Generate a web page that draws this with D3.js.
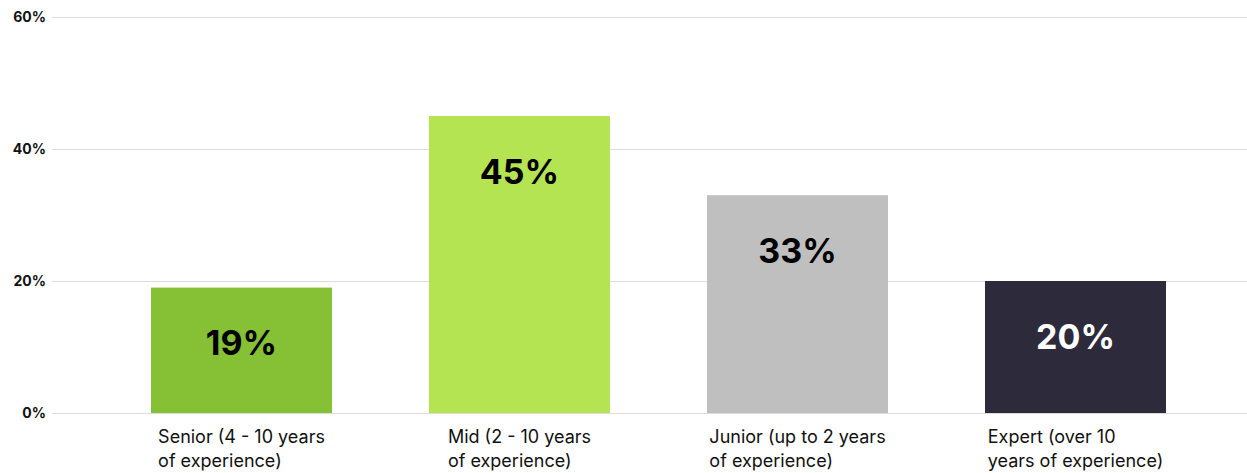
<!DOCTYPE html>
<html>
<head>
<meta charset="utf-8">
<script src="https://cdn.jsdelivr.net/npm/d3@7"></script>
<style>
  html, body { margin: 0; padding: 0; background: #fff; }
  svg { display: block; font-family: "Inter", "Noto Sans", sans-serif; }
</style>
</head>
<body>
<svg id="chart" width="1247" height="473"></svg>
<script>
// Experience levels and their share of respondents
const categories = [
  ["Senior (4 - 10 years", "of experience)"],
  ["Mid (2 - 10 years", "of experience)"],
  ["Junior (up to 2 years", "of experience)"],
  ["Expert (over 10", "years of experience)"]
];
const values = [19, 45, 33, 20];
const barColors = ["#86c034", "#b4e451", "#bfbfbf", "#2d2a3b"];
const labelColors = ["#000", "#000", "#000", "#fff"];
const yTicks = [0, 20, 40, 60];

const svg = d3.select("#chart");
const gridLeft = 52, gridRight = 1247;
const plotTop = 17, plotBottom = 413;

const x = d3.scaleBand()
  .domain(d3.range(values.length))
  .range([102.5, 1214.5])
  .paddingInner(0.349)
  .paddingOuter(0.1745);

const y = d3.scaleLinear().domain([0, 60]).range([plotBottom, plotTop]);

// Gridlines and y tick labels
const yAxis = svg.append("g")
  .attr("transform", `translate(${gridLeft},0)`)
  .call(d3.axisLeft(y).tickValues(yTicks).tickFormat(d => d + "%")
    .tickSize(-(gridRight - gridLeft)).tickPadding(6));
yAxis.select(".domain").remove();
yAxis.selectAll(".tick line").attr("stroke", "#dcdcdc").attr("stroke-width", 1);
yAxis.selectAll(".tick text")
  .attr("font-size", 14).attr("font-weight", 700).attr("fill", "#111")
  .attr("font-family", "Inter, sans-serif");

// Bars
svg.append("g").selectAll("rect")
  .data(values)
  .join("rect")
  .attr("x", (d, i) => x(i))
  .attr("y", d => y(d))
  .attr("width", x.bandwidth())
  .attr("height", d => plotBottom - y(d))
  .attr("fill", (d, i) => barColors[i]);

// Value labels inside the bars
svg.append("g").selectAll("text")
  .data(values)
  .join("text")
  .attr("x", (d, i) => x(i) + x.bandwidth() / 2)
  .attr("y", d => Math.min(y(d) + 55, (y(d) + plotBottom) / 2))
  .attr("text-anchor", "middle")
  .attr("dominant-baseline", "central")
  .attr("font-size", 34)
  .attr("font-weight", 700)
  .attr("fill", (d, i) => labelColors[i])
  .text(d => d + "%");

// Category labels: left-aligned block centred under each bar
const catG = svg.append("g");
categories.forEach((lines, i) => {
  const t = catG.append("text")
    .attr("font-size", 18)
    .attr("fill", "#111");
  lines.forEach((line, j) => {
    t.append("tspan").attr("x", 0).attr("y", 443 + j * 24).text(line);
  });
  const w = t.node().getBBox().width;
  t.attr("transform", `translate(${x(i) + x.bandwidth() / 2 - w / 2},0)`);
});
</script>
</body>
</html>
